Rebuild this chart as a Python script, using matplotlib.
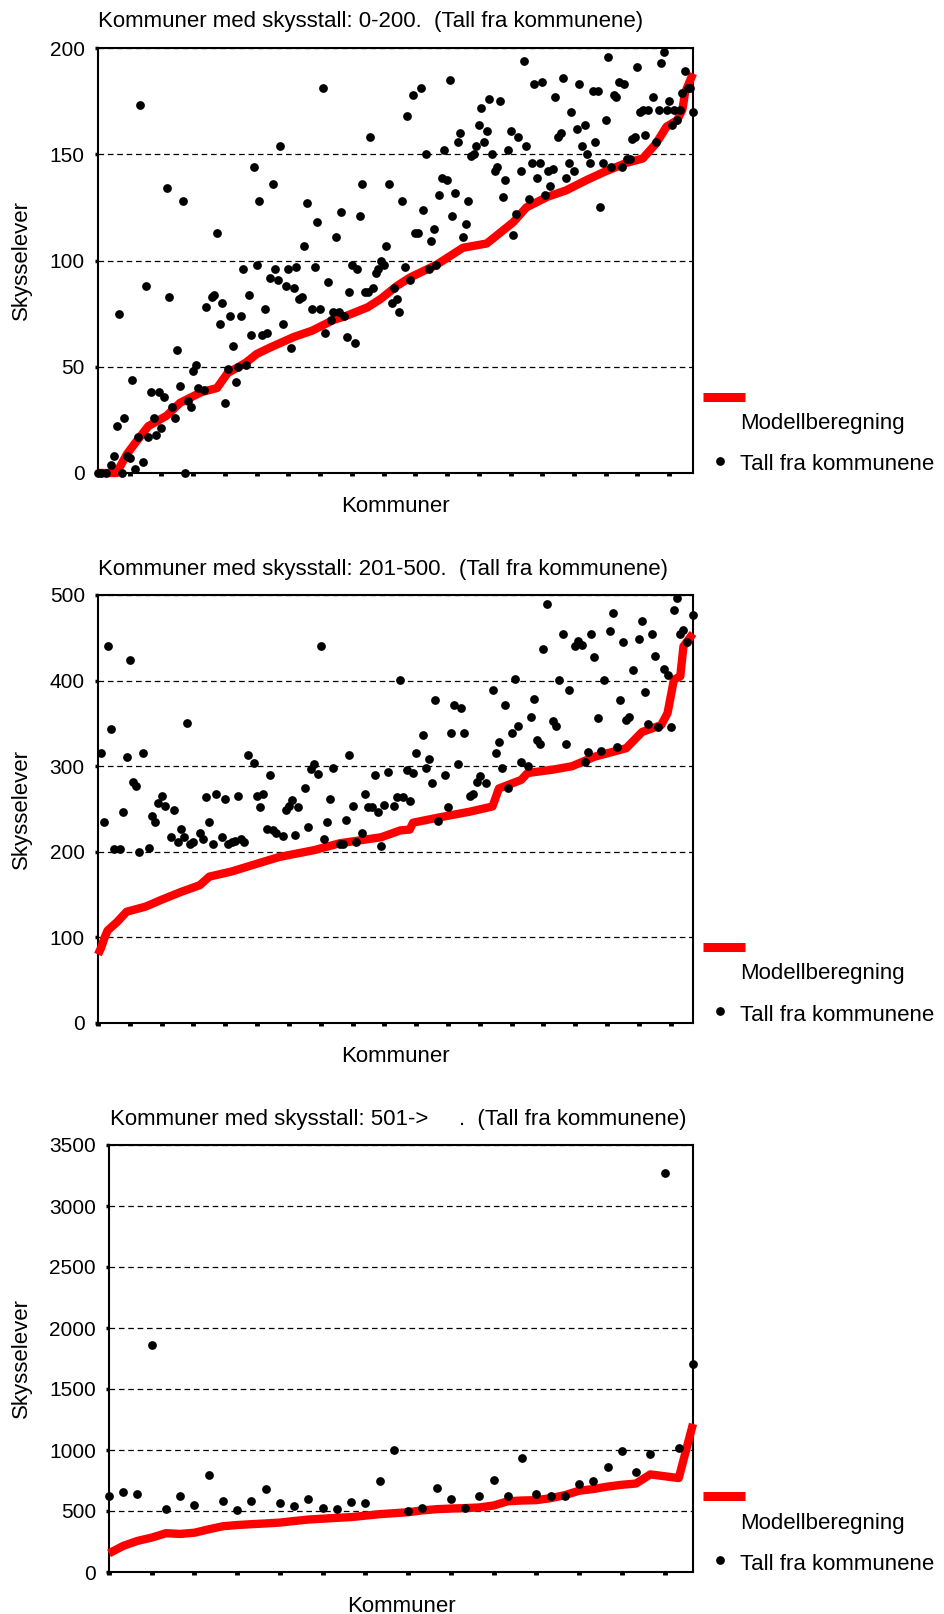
import matplotlib
matplotlib.use("Agg")
import matplotlib.pyplot as plt
from matplotlib.lines import Line2D

W, H = 944, 1614
plt.rcParams['font.family'] = ['Liberation Sans', 'DejaVu Sans']

# ---- panel 1: skysstall 0-200 (kommune rank, value) ----
top_dot_rank = [0, 1, 3, 5, 6, 7, 8, 9, 10, 11, 12, 13, 14, 15, 16, 17, 18, 19, 20, 21, 22, 23, 24, 25,
                26, 27, 28, 29, 30, 31, 32, 33, 34, 35, 36, 37, 38, 40, 41, 43, 44, 45, 46, 47, 48, 49,
                50, 51, 52, 53, 54, 55, 56, 57, 58, 59, 60, 61, 62, 63, 64, 65, 66, 67, 68, 69, 70, 71,
                72, 73, 74, 75, 76, 77, 78, 79, 81, 82, 83, 84, 85, 86, 87, 88, 89, 90, 91, 92, 93, 94,
                95, 96, 97, 98, 99, 100, 101, 102, 103, 104, 105, 106, 107, 108, 109, 110, 111, 112, 113,
                114, 115, 116, 117, 118, 119, 120, 121, 122, 123, 124, 125, 126, 127, 128, 129, 130, 131,
                132, 133, 134, 135, 136, 137, 138, 139, 140, 141, 142, 143, 144, 145, 146, 147, 148, 149,
                150, 151, 152, 153, 154, 155, 156, 157, 158, 159, 160, 161, 162, 163, 164, 165, 166, 167,
                168, 169, 170, 171, 172, 173, 174, 175, 176, 177, 178, 179, 180, 181, 182, 183, 184, 185,
                186, 187, 188, 189, 190, 191, 192, 193, 194, 195, 196, 197, 198, 199, 200, 201, 202, 203,
                204, 205, 206, 207, 208, 210, 211, 212, 213, 214, 215, 216, 217, 218, 219, 220, 221, 222,
                223, 224, 225]
top_dot_val = [0, 0, 0, 4, 8, 22, 75, 0, 26, 8, 7, 44, 2, 17, 173, 5, 88, 17, 38, 26, 18, 38, 21, 36,
               134, 83, 31, 26, 58, 41, 128, 0, 34, 31, 48, 51, 40, 39, 78, 83, 84, 113, 70, 80, 33, 49,
               74, 60, 43, 50, 74, 96, 51, 84, 65, 144, 98, 128, 65, 77, 66, 92, 136, 96, 91, 154, 70, 88,
               96, 59, 87, 97, 82, 83, 107, 127, 77, 97, 118, 77, 181, 66, 90, 72, 76, 111, 76, 123, 74, 64,
               85, 98, 61, 96, 121, 136, 85, 85, 158, 87, 94, 96, 100, 98, 107, 136, 80, 87, 82,
               76, 128, 97, 168, 91, 178, 113, 113, 181, 124, 150, 96, 109, 115, 98, 131, 139, 152,
               138, 185, 121, 132, 156, 160, 111, 117, 128, 149, 150, 154, 164, 172, 156, 161, 176, 150,
               142, 144, 175, 130, 138, 152, 161, 112, 122, 158, 142, 194, 154, 129, 146, 183, 139, 146,
               184, 131, 142, 135, 143, 177, 158, 160, 186, 139, 146, 170, 142, 162, 183, 154, 164, 150,
               146, 180, 156, 180, 125, 146, 166, 196, 144, 178, 177, 184, 144, 183, 148, 148, 157, 158,
               191, 170, 171, 159, 171, 177, 156, 171, 193, 198, 171, 175, 164, 171, 166, 171, 179, 189,
               181, 181, 170]
top_model_rank = [0, 7, 11, 14, 19, 26, 31, 39, 45, 49, 56, 60, 65, 74, 81, 89, 94, 102, 107, 113, 118,
                  128, 138, 147, 152, 157, 162, 170, 177, 185, 192, 200, 206, 211, 215, 219, 221, 222, 225]
top_model_val = [0, 0, 9, 14, 22, 27, 33, 38, 40, 47, 52, 56, 59, 64, 67, 72, 74, 78, 82, 88, 92,
                 98, 106, 108, 113, 118, 125, 130, 133, 138, 142, 146, 148, 155, 163, 166, 171, 179, 188]

# ---- panel 2: skysstall 201-500 ----
mid_dot_rank = [1, 2, 3, 4, 5, 7, 8, 9, 10, 11, 12, 13, 14, 16, 17, 18, 19, 20, 21, 23, 24, 25, 26, 27,
                28, 29, 30, 32, 33, 34, 35, 36, 37, 39, 40, 41, 42, 43, 44, 45, 46, 47, 49, 50, 51, 52,
                53, 54, 55, 56, 58, 59, 60, 61, 62, 63, 65, 66, 67, 68, 69, 70, 71, 72, 73, 74, 76, 77,
                78, 79, 80, 81, 83, 84, 85, 86, 87, 88, 89, 90, 91, 93, 94, 95, 96, 97, 98, 99, 100,
                102, 103, 104, 105, 106, 107, 109, 110, 111, 112, 113, 114, 115, 117, 118, 119, 120, 122,
                124, 125, 126, 127, 128, 129, 130, 131, 132, 133, 135, 136, 137, 138, 139, 140, 141, 143,
                144, 145, 146, 147, 148, 150, 151, 152, 153, 154, 155, 156, 157, 158, 159, 161, 162, 163,
                164, 165, 166, 167, 168, 170, 171, 172, 173, 174, 175, 176, 178, 179, 180, 181, 182, 183,
                184, 185, 187]
mid_dot_val = [316, 235, 440, 344, 203, 203, 247, 311, 424, 281, 277, 200, 315, 204, 242, 235, 257, 265,
               253, 217, 249, 212, 227, 217, 351, 209, 212, 222, 215, 264, 235, 209, 267, 217, 262, 209,
               212, 213, 265, 215, 211, 313, 304, 265, 252, 268, 227, 290, 225, 222, 219, 249, 254, 261,
               220, 252, 274, 229, 297, 302, 291, 440, 215, 235, 262, 298, 209, 209, 237, 313, 254, 212,
               222, 268, 252, 252, 290, 246, 207, 255, 293, 253, 264, 401, 264, 295, 259, 292, 316,
               336, 298, 308, 280, 377, 236, 290, 252, 339, 371, 302, 368, 339, 265, 267, 282, 288, 280,
               389, 316, 328, 298, 372, 275, 339, 402, 347, 305, 300, 357, 378, 331, 326, 437, 490, 353,
               347, 401, 455, 326, 389, 440, 446, 442, 305, 317, 455, 427, 356, 318, 401, 458, 479, 323,
               377, 445, 354, 358, 412, 449, 470, 387, 349, 455, 429, 346, 414, 407, 346, 482, 496, 455,
               459, 445, 477]
mid_model_rank = [0, 1, 2, 3, 6, 9, 15, 20, 26, 32, 35, 42, 49, 57, 68, 76, 89, 95, 98, 99, 107, 117,
                  124, 126, 133, 135, 143, 149, 156, 162, 166, 171, 177, 179, 181, 183, 184, 187]
mid_model_val = [80, 88, 99, 108, 118, 130, 136, 144, 153, 161, 171, 177, 185, 194, 202, 210, 217, 225,
                 226, 234, 240, 247, 253, 274, 284, 292, 296, 300, 311, 317, 321, 340, 348, 362, 401,
                 405, 440, 455]

# ---- panel 3: skysstall 501-> ----
low_dot_val = [619, 655, 641, 1858, 515, 619, 551, 795, 584, 507, 584, 677, 562, 537, 595, 523, 515,
               573, 562, 745, 1000, 501, 523, 688, 595, 523, 619, 756, 619, 932, 641, 619, 619, 723,
               745, 863, 989, 817, 970, 3272, 1014, 1707]
low_model_val = [153, 214, 255, 282, 318, 312, 322, 350, 375, 385, 392, 398, 405, 418, 430, 437, 444,
                 450, 462, 474, 482, 490, 505, 515, 520, 524, 529, 545, 580, 586, 589, 605, 630, 666,
                 680, 700, 715, 725, 800, 785, 770, 1214]
low_rank = list(range(len(low_dot_val)))

titles = ["Kommuner med skysstall: 0-200.  (Tall fra kommunene)",
          "Kommuner med skysstall: 201-500.  (Tall fra kommunene)",
          "Kommuner med skysstall: 501->     .  (Tall fra kommunene)"]

FS = 16      # titles, labels, legend
TICK_FS = 15


def fx(px):
    return px / W


def fy(py):
    return 1 - py / H


fig = plt.figure(figsize=(W / 100, H / 100), dpi=100)


def draw_panel(box, title, title_pos, ymax, ystep, n, k, dot_rank, dot_val, model_rank, model_val):
    l, t, r, b = box
    ax = fig.add_axes([fx(l), fy(b), (r - l) / W, (b - t) / H])
    ax.plot(model_rank, model_val, color='#ff0000', lw=6, solid_capstyle='butt',
            solid_joinstyle='round', clip_on=False, zorder=3)
    ax.plot(dot_rank, dot_val, 'o', color='black', ms=6.3, mew=0, clip_on=False, zorder=4)
    ax.set_xlim(0, n - 1)
    ax.set_ylim(0, ymax)
    ax.set_yticks(range(0, ymax + 1, ystep))
    ax.set_xticks(range(0, n, k))
    ax.set_xticklabels([])
    ax.yaxis.grid(True, color='black', lw=0.9, ls=(0, (4.5, 3)))
    ax.set_axisbelow(True)
    for s in ax.spines.values():
        s.set_linewidth(1.5)
    ax.tick_params(axis='y', direction='out', length=2.5, width=2.5, pad=7, labelsize=TICK_FS)
    ax.tick_params(axis='x', direction='out', length=2.5, width=3.5)

    fig.text(fx(title_pos[0]), fy(title_pos[1]), title, fontsize=FS, ha='left', va='center')
    fig.text(fx((l + r) / 2), fy(b + 34), 'Kommuner', fontsize=FS, ha='center', va='center')
    fig.text(fx(21), fy((t + b) / 2), 'Skysselever', rotation=90, fontsize=FS,
             ha='center', va='center')

    # legend
    fig.add_artist(Line2D([fx(703), fx(745)], [fy(b - 76)] * 2, color='#ff0000', lw=6.5,
                          solid_capstyle='butt'))
    fig.text(fx(740), fy(b - 49), 'Modellberegning', fontsize=FS, ha='left', va='center')
    fig.add_artist(Line2D([fx(720)], [fy(b - 12)], marker='o', color='black', ms=6.3, mew=0,
                          ls='none'))
    fig.text(fx(740), fy(b - 8), 'Tall fra kommunene', fontsize=FS, ha='left', va='center')
    return ax


draw_panel((98, 48, 693, 473), titles[0], (98, 21), 200, 50, 226, 12,
           top_dot_rank, top_dot_val, top_model_rank, top_model_val)
draw_panel((98, 595, 693, 1023), titles[1], (98, 569), 500, 100, 188, 10,
           mid_dot_rank, mid_dot_val, mid_model_rank, mid_model_val)
draw_panel((109, 1145, 693, 1572), titles[2], (110, 1120), 3500, 500, 42, 3,
           low_rank, low_dot_val, low_rank, low_model_val)

fig.savefig('out.png', dpi=100)
